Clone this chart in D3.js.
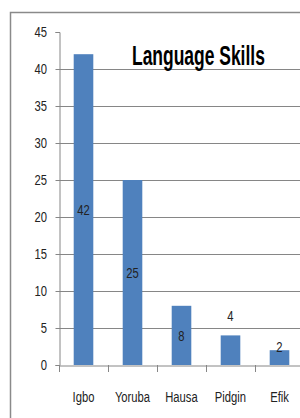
<!DOCTYPE html>
<html>
<head>
<meta charset="utf-8">
<script src="https://cdn.jsdelivr.net/npm/d3@7"></script>
<style>
  body { margin: 0; background: #fff; }
  text { font-family: "Liberation Sans", Arial, sans-serif; }
</style>
</head>
<body>
<div id="chart"></div>
<script>
// values
var languages = ["Igbo", "Yoruba", "Hausa", "Pidgin", "Efik"];
var counts = [42, 25, 8, 4, 2];
// where each value label sits, in axis units
var labelAt = [21, 12.5, 4, 6.6, 2.4];
var yTicks = [0, 5, 10, 15, 20, 25, 30, 35, 40, 45];

var width = 300, height = 418;
var squeeze = 0.75; // the original text is horizontally condensed

var svg = d3.select("#chart").append("svg")
    .attr("width", width)
    .attr("height", height);

// outer chart border (runs off the right and bottom of the crop)
svg.append("path")
    .attr("d", "M10.5,418 L10.5,12.5 L300,12.5")
    .attr("fill", "none")
    .attr("stroke", "#8a8a8a")
    .attr("stroke-width", 1.5);

var plotLeft = 59, plotRight = 304, plotTop = 32, plotBottom = 365;

var y = d3.scaleLinear().domain([0, 45]).range([plotBottom, plotTop]);
var xSlots = d3.scaleBand().domain(languages).range([plotLeft, plotRight]);
var x = d3.scaleBand().domain(languages).range([plotLeft, plotRight])
    .paddingInner(0.6).paddingOuter(0.3);

// gridlines
svg.append("g").selectAll("line")
    .data(yTicks.filter(function (d) { return d > 0 && d < 45; }))
    .enter().append("line")
    .attr("x1", plotLeft).attr("x2", plotRight)
    .attr("y1", function (d) { return Math.round(y(d)) + 0.5; })
    .attr("y2", function (d) { return Math.round(y(d)) + 0.5; })
    .attr("stroke", "#868686");

// y axis
var yAxis = svg.append("g")
    .attr("transform", "translate(" + (plotLeft + 0.5) + ",0)")
    .call(d3.axisLeft(y).tickValues(yTicks).tickSize(4));
yAxis.select(".domain").attr("stroke", "#868686");
yAxis.selectAll(".tick line").attr("stroke", "#868686");
yAxis.selectAll(".tick text")
    .attr("x", -12.5 / squeeze)
    .attr("transform", "scale(" + squeeze + ",1)")
    .attr("font-size", 15)
    .attr("fill", "#222")
    .style("font-family", "'Liberation Sans', Arial, sans-serif");

// bars
svg.append("g").selectAll("rect")
    .data(counts)
    .enter().append("rect")
    .attr("x", function (d, i) { return x(languages[i]); })
    .attr("y", function (d) { return y(d); })
    .attr("width", x.bandwidth())
    .attr("height", function (d) { return y(0) - y(d); })
    .attr("fill", "#4f81bd");

// x axis
var xAxis = svg.append("g")
    .attr("transform", "translate(0," + (plotBottom + 0.5) + ")")
    .call(d3.axisBottom(xSlots).tickSize(0).tickPadding(26));
xAxis.select(".domain").attr("stroke", "#868686");
xAxis.selectAll(".tick text")
    .attr("transform", "scale(" + squeeze + ",1)")
    .attr("font-size", 15)
    .attr("fill", "#222")
    .style("font-family", "'Liberation Sans', Arial, sans-serif");
svg.append("g").selectAll("line")
    .data(languages)
    .enter().append("line")
    .attr("x1", function (d) { return Math.round(xSlots(d)) + 0.5; })
    .attr("x2", function (d) { return Math.round(xSlots(d)) + 0.5; })
    .attr("y1", plotBottom)
    .attr("y2", plotBottom + 7)
    .attr("stroke", "#868686");

// value labels
svg.append("g").selectAll("text")
    .data(counts)
    .enter().append("text")
    .attr("transform", function (d, i) {
      return "translate(" + (x(languages[i]) + x.bandwidth() / 2) + "," + y(labelAt[i]) + ") scale(" + squeeze + ",1)";
    })
    .attr("dy", "0.35em")
    .attr("text-anchor", "middle")
    .attr("font-size", 15)
    .attr("fill", "#222")
    .text(function (d) { return d; });

// title, squeezed to the width it has in the original
var title = svg.append("text")
    .attr("font-size", 27)
    .attr("font-weight", "bold")
    .attr("fill", "#000")
    .text("Language Skills");
var natural = title.node().getComputedTextLength();
title.attr("transform", "translate(132,65) scale(" + (133 / natural) + ",1)");
</script>
</body>
</html>
